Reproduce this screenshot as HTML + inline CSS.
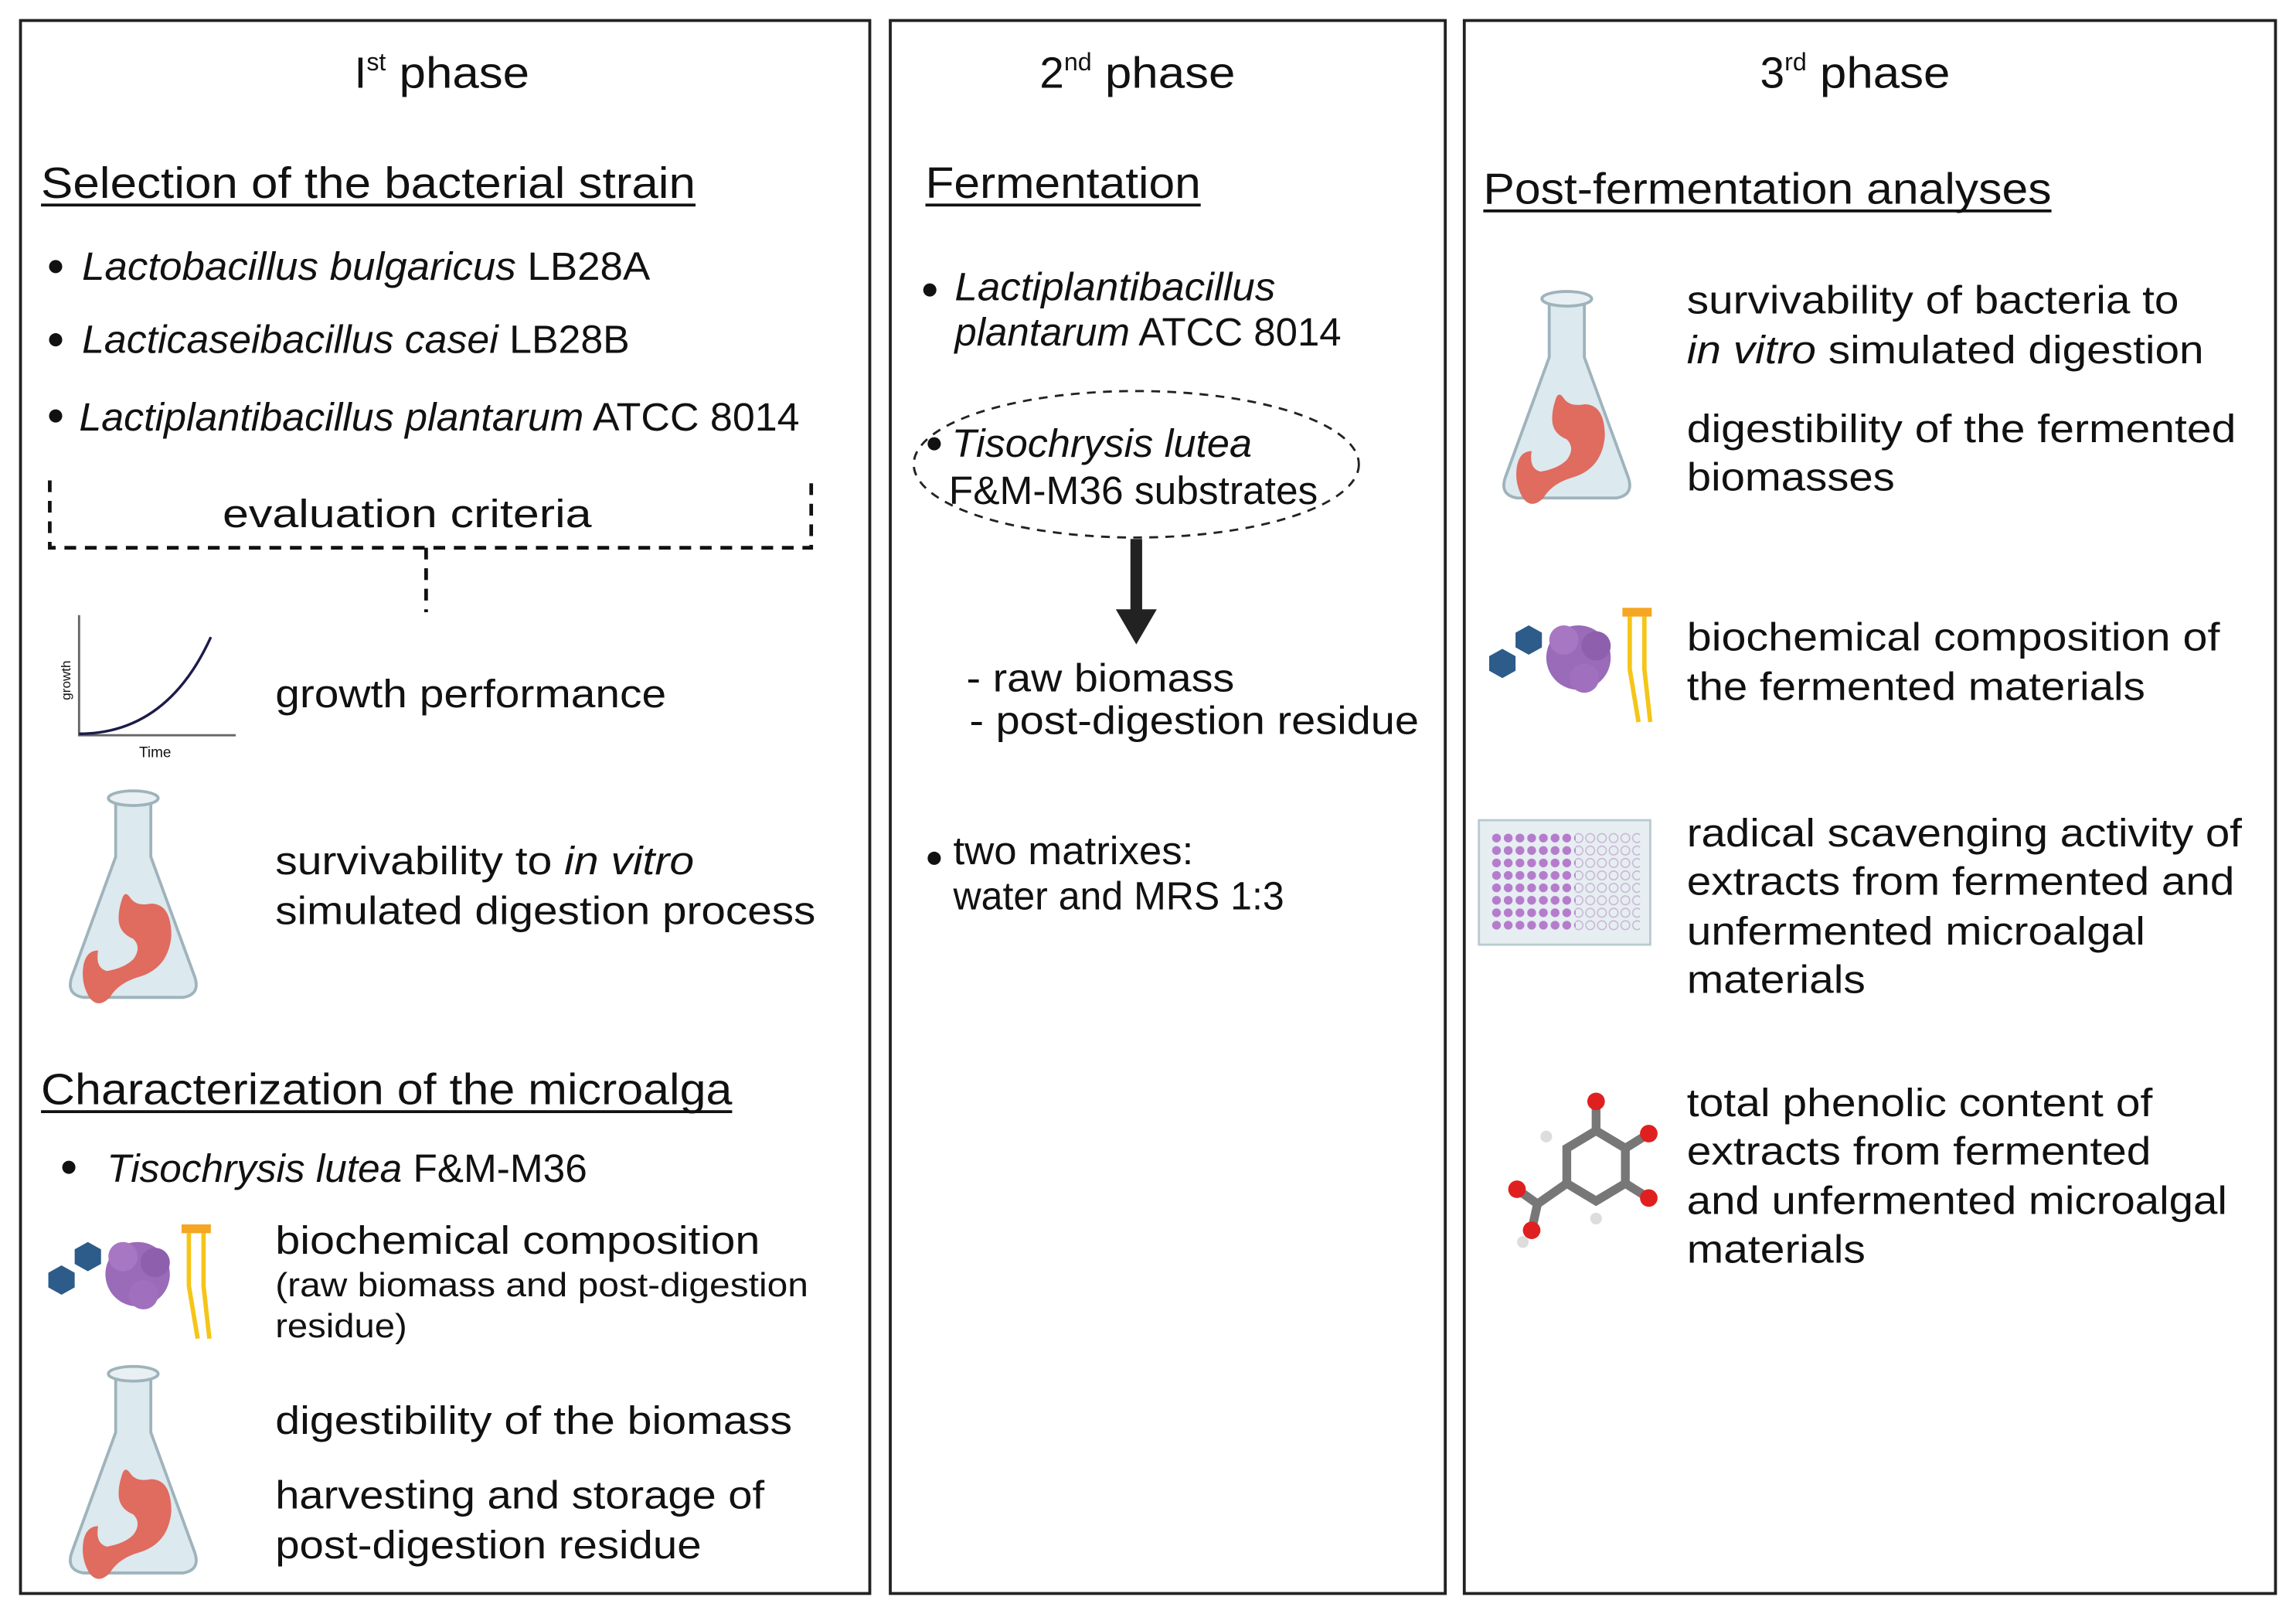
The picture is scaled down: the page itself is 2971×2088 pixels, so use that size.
<!DOCTYPE html>
<html><head><meta charset="utf-8"><style>
html,body{margin:0;padding:0;background:#fff}
svg{display:block}
text{font-family:"Liberation Sans",sans-serif;fill:#111}
.h{font-size:30px}
.t{font-size:27px}
.s{font-size:23px}
.i{font-style:italic}
</style></head><body>
<svg width="2971" height="2088" viewBox="0 0 1568 1102" preserveAspectRatio="none" xmlns="http://www.w3.org/2000/svg">
<defs>
<g id="flask">
<path d="M-12,0 h24 v40 l30,82 q4,12 -8,14 h-68 q-12,-2 -8,-14 l30,-82z" fill="#dce9ee" stroke="#9fb3bb" stroke-width="2"/>
<ellipse cx="0" cy="0" rx="17" ry="5" fill="#e8f0f3" stroke="#9fb3bb" stroke-width="2"/>
<path d="M-8,70 q2,-8 6,-2 q4,6 14,4 q14,0 14,22 q-2,22 -22,28 q-14,4 -20,14 q-8,8 -14,0 q-6,-10 -4,-22 q2,-10 10,-10 q-2,12 6,14 q12,-2 18,-8 q6,-8 0,-14 q-10,-4 -10,-14 q0,-6 2,-12z" fill="#e06b5f"/>
</g>
<g id="bio">
<polygon points="0,-10 9,-5 9,5 0,10 -9,5 -9,-5" fill="#2d5b8a" transform="translate(14,28)"/>
<polygon points="0,-10 9,-5 9,5 0,10 -9,5 -9,-5" fill="#2d5b8a" transform="translate(32,12)"/>
<circle cx="66" cy="24" r="22" fill="#9a6bb8"/>
<circle cx="56" cy="12" r="10" fill="#a777c4"/><circle cx="78" cy="16" r="10" fill="#8e5fac"/><circle cx="70" cy="38" r="10" fill="#a070be"/>
<rect x="96" y="-10" width="20" height="6" fill="#f5a623"/>
<path d="M101,-4 v36 l6,36 M111,-4 v36 l4,36" stroke="#f5c518" stroke-width="3" fill="none"/>
</g>
<pattern id="wellA" width="8" height="8.5" patternUnits="userSpaceOnUse" x="1018" y="568"><circle cx="4" cy="4.2" r="3" fill="#b57ccc"/></pattern>
<pattern id="wellB" width="8" height="8.5" patternUnits="userSpaceOnUse" x="1018" y="568"><circle cx="4" cy="4.2" r="3" fill="none" stroke="#c9b6d4" stroke-width="0.8"/></pattern>
</defs>
<rect x="0" y="0" width="1568" height="1102" fill="#fff"/>
<g fill="none" stroke="#222" stroke-width="2">
<rect x="14" y="14" width="580" height="1074"/>
<rect x="608" y="14" width="379" height="1074"/>
<rect x="1000" y="14" width="554" height="1074"/>
</g>

<!-- Panel 1 -->
<text x="242" y="60" class="h">I<tspan font-size="17" dy="-12">st</tspan><tspan dy="12" textLength="98" lengthAdjust="spacingAndGlyphs"> phase</tspan></text>
<text x="28" y="135" class="h" textLength="447" lengthAdjust="spacingAndGlyphs">Selection  of the bacterial strain</text>
<line x1="28" y1="140" x2="475" y2="140" stroke="#111" stroke-width="2"/>
<circle cx="38" cy="182" r="4.5" fill="#111"/>
<text x="56" y="191" class="t" textLength="388" lengthAdjust="spacingAndGlyphs"><tspan class="i">Lactobacillus  bulgaricus</tspan> LB28A</text>
<circle cx="38" cy="232" r="4.5" fill="#111"/>
<text x="56" y="241" class="t" textLength="374" lengthAdjust="spacingAndGlyphs"><tspan class="i">Lacticaseibacillus casei</tspan> LB28B</text>
<circle cx="38" cy="284" r="4.5" fill="#111"/>
<text x="54" y="294" class="t" textLength="492" lengthAdjust="spacingAndGlyphs"><tspan class="i">Lactiplantibacillus plantarum</tspan> ATCC 8014</text>
<path d="M34,328 v46 h520 v-46 M291,374 v44" fill="none" stroke="#111" stroke-width="2.5" stroke-dasharray="8,6"/>
<text x="152" y="360" class="t" textLength="252" lengthAdjust="spacingAndGlyphs">evaluation criteria</text>
<path d="M54,420 v82 h107" fill="none" stroke="#666" stroke-width="1.5"/>
<path d="M54,501 q60,0 90,-66" fill="none" stroke="#1d1b4a" stroke-width="1.8"/>
<text x="48" y="478" font-size="9" transform="rotate(-90 48 478)" fill="#444">growth</text>
<text x="95" y="517" font-size="10" fill="#444">Time</text>
<text x="188" y="483" class="t" textLength="267" lengthAdjust="spacingAndGlyphs">growth performance</text>
<use href="#flask" x="91" y="545"/>
<text x="188" y="597" class="t" textLength="286" lengthAdjust="spacingAndGlyphs">survivability to <tspan class="i">in vitro</tspan></text>
<text x="188" y="631" class="t" textLength="369" lengthAdjust="spacingAndGlyphs">simulated digestion process</text>
<text x="28" y="754" class="h" textLength="472" lengthAdjust="spacingAndGlyphs">Characterization of the microalga</text>
<line x1="28" y1="759" x2="500" y2="759" stroke="#111" stroke-width="2"/>
<circle cx="47" cy="797" r="4.5" fill="#111"/>
<text x="73" y="807" class="t" textLength="328" lengthAdjust="spacingAndGlyphs"><tspan class="i">Tisochrysis lutea</tspan> F&amp;M-M36</text>
<use href="#bio" x="28" y="846"/>
<text x="188" y="856" class="t" textLength="331" lengthAdjust="spacingAndGlyphs">biochemical composition</text>
<text x="188" y="885" class="s" textLength="364" lengthAdjust="spacingAndGlyphs">(raw biomass and post-digestion</text>
<text x="188" y="913" class="s" textLength="90" lengthAdjust="spacingAndGlyphs">residue)</text>
<use href="#flask" x="91" y="938"/>
<text x="188" y="979" class="t" textLength="353" lengthAdjust="spacingAndGlyphs">digestibility of the biomass</text>
<text x="188" y="1030" class="t" textLength="334" lengthAdjust="spacingAndGlyphs">harvesting and storage of</text>
<text x="188" y="1064" class="t" textLength="291" lengthAdjust="spacingAndGlyphs">post-digestion residue</text>

<!-- Panel 2 -->
<text x="710" y="60" class="h">2<tspan font-size="17" dy="-12">nd</tspan><tspan dy="12" textLength="98" lengthAdjust="spacingAndGlyphs"> phase</tspan></text>
<text x="632" y="135" class="h" textLength="188" lengthAdjust="spacingAndGlyphs">Fermentation</text>
<line x1="632" y1="140" x2="820" y2="140" stroke="#111" stroke-width="2"/>
<circle cx="635" cy="198" r="4.5" fill="#111"/>
<text x="652" y="205" class="t i" textLength="219" lengthAdjust="spacingAndGlyphs">Lactiplantibacillus</text>
<text x="652" y="236" class="t" textLength="264" lengthAdjust="spacingAndGlyphs"><tspan class="i">plantarum</tspan> ATCC 8014</text>
<ellipse cx="776" cy="317" rx="152" ry="50" fill="none" stroke="#222" stroke-width="1.5" stroke-dasharray="6,5"/>
<circle cx="638" cy="303" r="4.5" fill="#111"/>
<text x="650" y="312" class="t i" textLength="205" lengthAdjust="spacingAndGlyphs">Tisochrysis lutea</text>
<text x="648" y="344" class="t" textLength="252" lengthAdjust="spacingAndGlyphs">F&amp;M-M36 substrates</text>
<rect x="772" y="368" width="8" height="50" fill="#222"/>
<polygon points="762,416 790,416 776,440" fill="#222"/>
<text x="660" y="472" class="t" textLength="183" lengthAdjust="spacingAndGlyphs">- raw biomass</text>
<text x="662" y="501" class="t" textLength="307" lengthAdjust="spacingAndGlyphs">- post-digestion residue</text>
<circle cx="638" cy="586" r="4.5" fill="#111"/>
<text x="651" y="590" class="t" textLength="164" lengthAdjust="spacingAndGlyphs">two matrixes:</text>
<text x="651" y="621" class="t" textLength="226" lengthAdjust="spacingAndGlyphs">water and MRS 1:3</text>

<!-- Panel 3 -->
<text x="1202" y="60" class="h">3<tspan font-size="17" dy="-12">rd</tspan><tspan dy="12" textLength="98" lengthAdjust="spacingAndGlyphs"> phase</tspan></text>
<text x="1013" y="139" class="h" textLength="388" lengthAdjust="spacingAndGlyphs">Post-fermentation analyses</text>
<line x1="1013" y1="144" x2="1401" y2="144" stroke="#111" stroke-width="2"/>
<use href="#flask" x="1070" y="204"/>
<text x="1152" y="214" class="t" textLength="336" lengthAdjust="spacingAndGlyphs">survivability of bacteria to</text>
<text x="1152" y="248" class="t" textLength="353" lengthAdjust="spacingAndGlyphs"><tspan class="i">in vitro</tspan> simulated digestion</text>
<text x="1152" y="302" class="t" textLength="375" lengthAdjust="spacingAndGlyphs">digestibility of the fermented</text>
<text x="1152" y="335" class="t" textLength="142" lengthAdjust="spacingAndGlyphs">biomasses</text>
<use href="#bio" x="1012" y="425"/>
<text x="1152" y="444" class="t" textLength="364" lengthAdjust="spacingAndGlyphs">biochemical composition of</text>
<text x="1152" y="478" class="t" textLength="313" lengthAdjust="spacingAndGlyphs">the fermented materials</text>
<rect x="1010" y="560" width="117" height="85" fill="#e6eef2" stroke="#b9cad2" stroke-width="1.5"/>
<rect x="1018" y="568" width="58" height="68" fill="url(#wellA)"/>
<rect x="1076" y="568" width="44" height="68" fill="url(#wellB)"/>
<text x="1152" y="578" class="t" textLength="379" lengthAdjust="spacingAndGlyphs">radical scavenging activity of</text>
<text x="1152" y="611" class="t" textLength="374" lengthAdjust="spacingAndGlyphs">extracts from fermented and</text>
<text x="1152" y="645" class="t" textLength="313" lengthAdjust="spacingAndGlyphs">unfermented microalgal</text>
<text x="1152" y="678" class="t" textLength="122" lengthAdjust="spacingAndGlyphs">materials</text>
<g stroke="#777" stroke-width="6" fill="none">
<polygon points="1090,772 1110,784 1110,808 1090,820 1070,808 1070,784"/>
<path d="M1070,808 L1050,822 M1050,822 L1036,812 M1050,822 L1046,840 M1090,772 L1090,752 M1110,784 L1126,774 M1110,808 L1126,818"/>
</g>
<g>
<circle cx="1090" cy="752" r="6" fill="#e02020"/><circle cx="1126" cy="774" r="6" fill="#e02020"/><circle cx="1126" cy="818" r="6" fill="#e02020"/>
<circle cx="1036" cy="812" r="6" fill="#e02020"/><circle cx="1046" cy="840" r="6" fill="#e02020"/>
<circle cx="1056" cy="776" r="4" fill="#ddd"/><circle cx="1090" cy="832" r="4" fill="#ddd"/><circle cx="1040" cy="848" r="4" fill="#ddd"/>
</g>
<text x="1152" y="762" class="t" textLength="318" lengthAdjust="spacingAndGlyphs">total phenolic content of</text>
<text x="1152" y="795" class="t" textLength="317" lengthAdjust="spacingAndGlyphs">extracts from fermented</text>
<text x="1152" y="829" class="t" textLength="369" lengthAdjust="spacingAndGlyphs">and unfermented microalgal</text>
<text x="1152" y="862" class="t" textLength="122" lengthAdjust="spacingAndGlyphs">materials</text>
</svg>
</body></html>
